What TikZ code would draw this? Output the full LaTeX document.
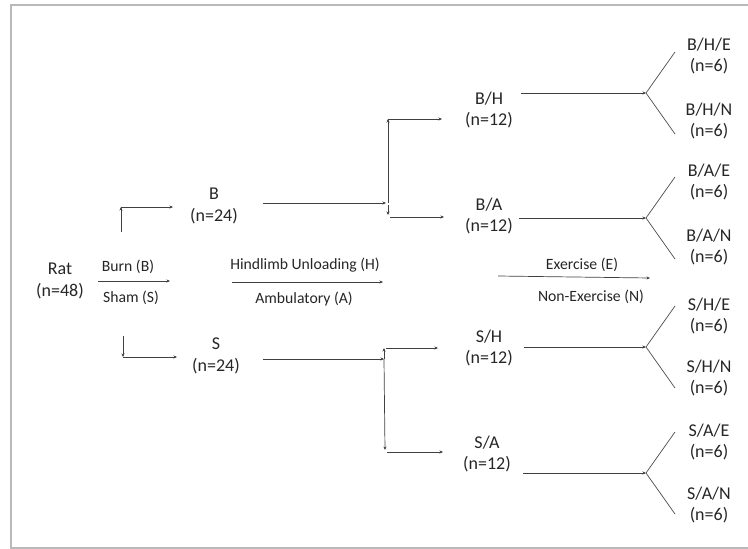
\documentclass[tikz,border=0pt]{standalone}
\usepackage{fontspec}
\setmainfont{Carlito}
\usetikzlibrary{arrows.meta}
\begin{document}
\begin{tikzpicture}[x=1pt,y=-1pt,
  grp/.style={align=center, inner sep=0pt, text=black!85, font=\fontsize{18}{21.5}\selectfont},
  lbl/.style={inner sep=0pt, text=black!85, font=\fontsize{15.7}{18}\selectfont},
  arr/.style={draw=black!75, line width=0.7pt, -{Stealth[length=3.5pt,width=3pt]}},
  ln/.style={draw=black!70, line width=0.7pt},
  framel/.style={draw=gray!55, line width=1.3pt}]
\useasboundingbox (0,0) rectangle (748,549);
\draw[framel] (748,5) -- (11,5) -- (11,548) -- (748,548);

% group nodes
\node[grp] (rat) at (60,281) {Rat\\(n=48)};
\node[grp] (nB) at (214,206) {B\\(n=24)};
\node[grp] (nS) at (216,356) {S\\(n=24)};
\node[grp] (nBH) at (489,110) {B/H\\(n=12)};
\node[grp] (nBA) at (489,216) {B/A\\(n=12)};
\node[grp] (nSH) at (489,348) {S/H\\(n=12)};
\node[grp] (nSA) at (487,454) {S/A\\(n=12)};
\node[grp] (nBHE) at (709,56) {B/H/E\\(n=6)};
\node[grp] (nBHN) at (709,121) {B/H/N\\(n=6)};
\node[grp] (nBAE) at (709,182) {B/A/E\\(n=6)};
\node[grp] (nBAN) at (709,247) {B/A/N\\(n=6)};
\node[grp] (nSHE) at (709,316) {S/H/E\\(n=6)};
\node[grp] (nSHN) at (709,378) {S/H/N\\(n=6)};
\node[grp] (nSAE) at (709,442) {S/A/E\\(n=6)};
\node[grp] (nSAN) at (709,505) {S/A/N\\(n=6)};

% labels
\node[lbl] (lburn) at (128,267) {Burn (B)};
\node[lbl] (lsham) at (131,298) {Sham (S)};
\node[lbl] (lhind) at (305,265) {Hindlimb Unloading (H)};
\node[lbl] (lamb) at (304,299) {Ambulatory (A)};
\node[lbl] (lex) at (582,265) {Exercise (E)};
\node[lbl] (lnex) at (591,297) {Non-Exercise (N)};

% legend arrows
\coordinate (r1) at (98,281); \coordinate (r2) at (170,281);
\coordinate (h1) at (232,282); \coordinate (h2) at (383,282);
\coordinate (e1) at (498,276); \coordinate (e2) at (650,278);
\draw[arr] (r1) -- (r2);
\draw[arr] (h1) -- (h2);
\draw[arr] (e1) -- (e2);

% rat elbows
\coordinate (u0) at (121,232); \coordinate (u1) at (121,207); \coordinate (u2) at (173,207);
\coordinate (d0) at (123,336); \coordinate (d1) at (123,357); \coordinate (d2) at (177,357);
\draw[arr] (u0) -- (u1);
\draw[arr] (u1) -- (u2);
\draw[arr] (d0) -- (d1);
\draw[arr] (d1) -- (d2);

% B split
\coordinate (b0) at (263,203); \coordinate (b1) at (386,203);
\coordinate (bv0) at (388,203); \coordinate (bv1) at (388,119); \coordinate (bh) at (442,119);
\coordinate (bd0) at (388,205); \coordinate (bd1) at (388,215);
\coordinate (ba0) at (390,217); \coordinate (ba) at (444,217);
\draw[arr] (b0) -- (b1);
\draw[arr] (bv0) -- (bv1);
\draw[arr] (bv1) -- (bh);
\draw[arr] (bd0) -- (bd1);
\draw[arr] (ba0) -- (ba);

% S split
\coordinate (s0) at (263,359); \coordinate (s1) at (384,359);
\coordinate (sv1) at (384,348); \coordinate (sh0) at (386,348); \coordinate (sh) at (438,348);
\coordinate (sv2) at (385,450); \coordinate (sa0) at (387,452); \coordinate (sa) at (443,452);
\draw[arr] (s0) -- (s1);
\draw[arr] (s1) -- (sv1);
\draw[arr] (s1) -- (sv2);
\draw[arr] (sh0) -- (sh);
\draw[arr] (sa0) -- (sa);

% forks
\foreach \nm/\y/\x in {BH/93/521, BA/218/519, SH/347/524, SA/473/523}{
  \coordinate (o\nm) at (\x,\y);
  \coordinate (f\nm) at (646,\y);
  \coordinate (t\nm a) at (675,\y-41);
  \coordinate (t\nm b) at (675,\y+41);
  \draw[arr] (o\nm) -- (f\nm);
  \draw[ln] (t\nm a) -- (f\nm) -- (t\nm b);
}
\end{tikzpicture}
\end{document}
